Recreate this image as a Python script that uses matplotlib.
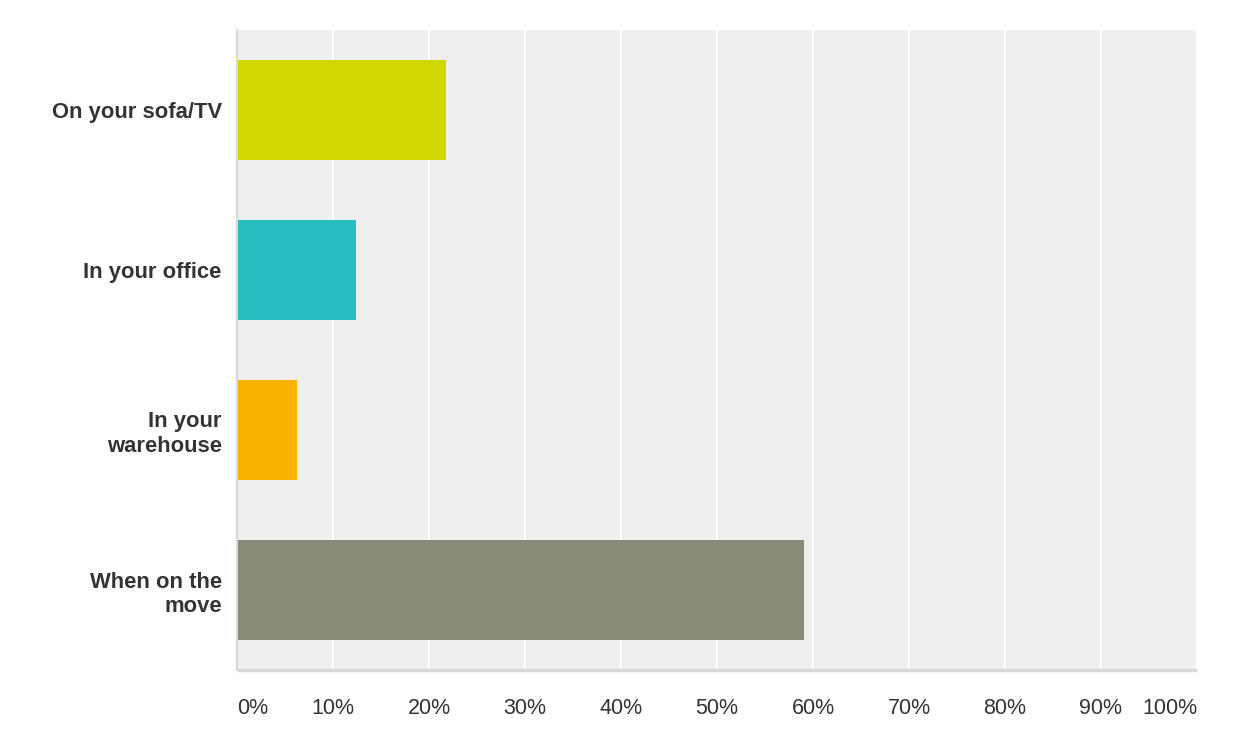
import matplotlib
matplotlib.use('Agg')
import matplotlib.pyplot as plt
import numpy as np

categories = ['On your sofa/TV', 'In your office', 'In your\nwarehouse', 'When on the\nmove']
values = [21.8, 12.4, 6.2, 59.1]
colors = ['#d1d700', '#26bcc0', '#f9b100', '#898a7a']
ticks = [0, 10, 20, 30, 40, 50, 60, 70, 80, 90, 100]
tick_labels = ['%d%%' % t for t in ticks]

plt.rcParams['font.family'] = ['Liberation Sans', 'DejaVu Sans']

fig = plt.figure(figsize=(12.42, 7.44), dpi=100)
ax = fig.add_axes([237/1242, 1-670/744, 960/1242, 640/744])
ax.set_facecolor('#efefef')

y = np.arange(len(categories))
ax.barh(y, values, height=0.625, color=colors, zorder=3)

ax.set_xlim(0, 100)
ax.set_ylim(len(categories) - 0.5, -0.5)
ax.set_xticks(ticks)
ax.set_xticklabels(tick_labels, fontsize=15.5, color='#333333')
labs = ax.get_xticklabels()
labs[0].set_ha('left')
labs[-1].set_ha('right')
ax.set_yticks(y)
ax.set_yticklabels(categories, fontsize=15.8, fontweight='bold', color='#333333',
                   multialignment='right')
ax.tick_params(axis='x', length=0, pad=20)
ax.tick_params(axis='y', length=0, pad=11)

ax.grid(axis='x', color='white', linewidth=1.5)
ax.set_axisbelow(True)
for s in ['top', 'right']:
    ax.spines[s].set_visible(False)
ax.spines['left'].set_color('#d9d9d9')
ax.spines['left'].set_linewidth(1.5)
ax.spines['left'].set_zorder(4)
ax.spines['bottom'].set_color('#d9d9d9')
ax.spines['bottom'].set_linewidth(2.5)
ax.spines['bottom'].set_capstyle('butt')

fig.savefig('out.png', dpi=100)
